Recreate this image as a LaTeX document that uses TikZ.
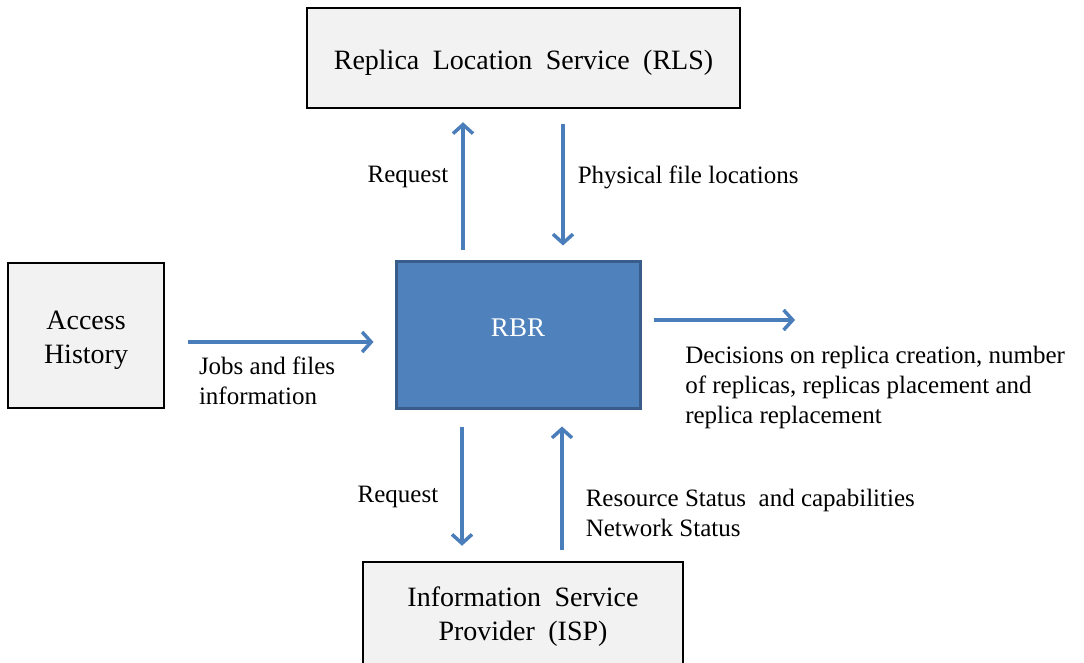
\documentclass[tikz,border=0pt]{standalone}
\usepackage{fontspec}
\setmainfont{Liberation Serif}
\usepackage{xcolor}
\usetikzlibrary{arrows.meta,positioning,calc,shadows}
\definecolor{flowblue}{HTML}{4A7EBB}
\definecolor{rbrfill}{HTML}{4F81BD}
\definecolor{rbrline}{HTML}{385D8A}
\definecolor{boxgray}{HTML}{F2F2F2}
\newcommand{\lift}[2]{\raisebox{#1}[\height][\depth]{#2}}
\newcommand{\boxfont}{\fontsize{28}{34}\selectfont\spaceskip=0.48em\relax}

\begin{document}
\begin{tikzpicture}[x=1pt,y=1pt,
  box/.style={rectangle,draw=black,line width=2.5pt,fill=boxgray,align=center,
              font=\boxfont},
  core/.style={rectangle,draw=rbrline,line width=3pt,fill=rbrfill,text=white,
               font=\fontsize{27}{32}\selectfont,
               general shadow={fill=black,shadow xshift=-1.5pt,shadow yshift=-1.5pt}},
  flow/.style={draw=flowblue,line width=3.5pt,
               -{Straight Barb[length=9pt,width=20pt,line width=3.5pt]}},
  lbl/.style={inner sep=0pt,align=left,font=\fontsize{25}{30}\selectfont}]
\useasboundingbox (0,0) rectangle (1084,662);
\node[box,minimum width=433pt,minimum height=100pt] (rls) at (523.5,604)
  {\lift{-5pt}{Replica Location Service (RLS)}};
\node[box,minimum width=156pt,minimum height=145pt] (access) at (86,326.5)
  {\lift{-5pt}{Access}\\\lift{-5pt}{History}};
\node[core,minimum width=244pt,minimum height=146pt] (rbr) at (518,327) {\lift{7pt}{RBR}};
\node[box,minimum width=320pt,minimum height=106pt] (isp) at (523,47)
  {\lift{-2pt}{Information Service}\\\lift{-2pt}{Provider (ISP)}};
\coordinate (out) at (795,342);
% RLS <-> RBR
\draw[flow] ($(rbr.north)+(-55,10)$) -- ($(rbr.north |- rls.south)+(-55,-13)$)
  node[lbl,pos=0.57,left=13pt]{Request};
\draw[flow] ($(rbr.north |- rls.south)+(45,-15)$) -- ($(rbr.north)+(45,15)$)
  node[lbl,pos=0.44,right=13pt]{Physical file locations};
% history and decisions
\draw[flow] ($(access.east)+(23,-6.5)$) -- ($(rbr.west)+(-21,-7)$)
  node[lbl,pos=0,anchor=north west,xshift=9pt,yshift=-13pt]{Jobs and files\\information};
\draw[flow] ($(rbr.east)+(12,15)$) -- (out)
  node[lbl,pos=0,anchor=north west,xshift=30pt,yshift=-24pt]{Decisions on replica creation, number\\of replicas, replicas placement and\\replica replacement};
% RBR <-> ISP
\draw[flow] ($(rbr.south)+(-56,-17)$) -- ($(rbr.south |- isp.north)+(-56,15)$)
  node[lbl,pos=0.59,left=22pt]{Request};
\draw[flow] ($(rbr.south |- isp.north)+(44,11)$) -- ($(rbr.south)+(44,-17)$)
  node[lbl,pos=0.30,right=22pt]{Resource Status\ \ and capabilities\\Network Status};
\end{tikzpicture}
\end{document}
